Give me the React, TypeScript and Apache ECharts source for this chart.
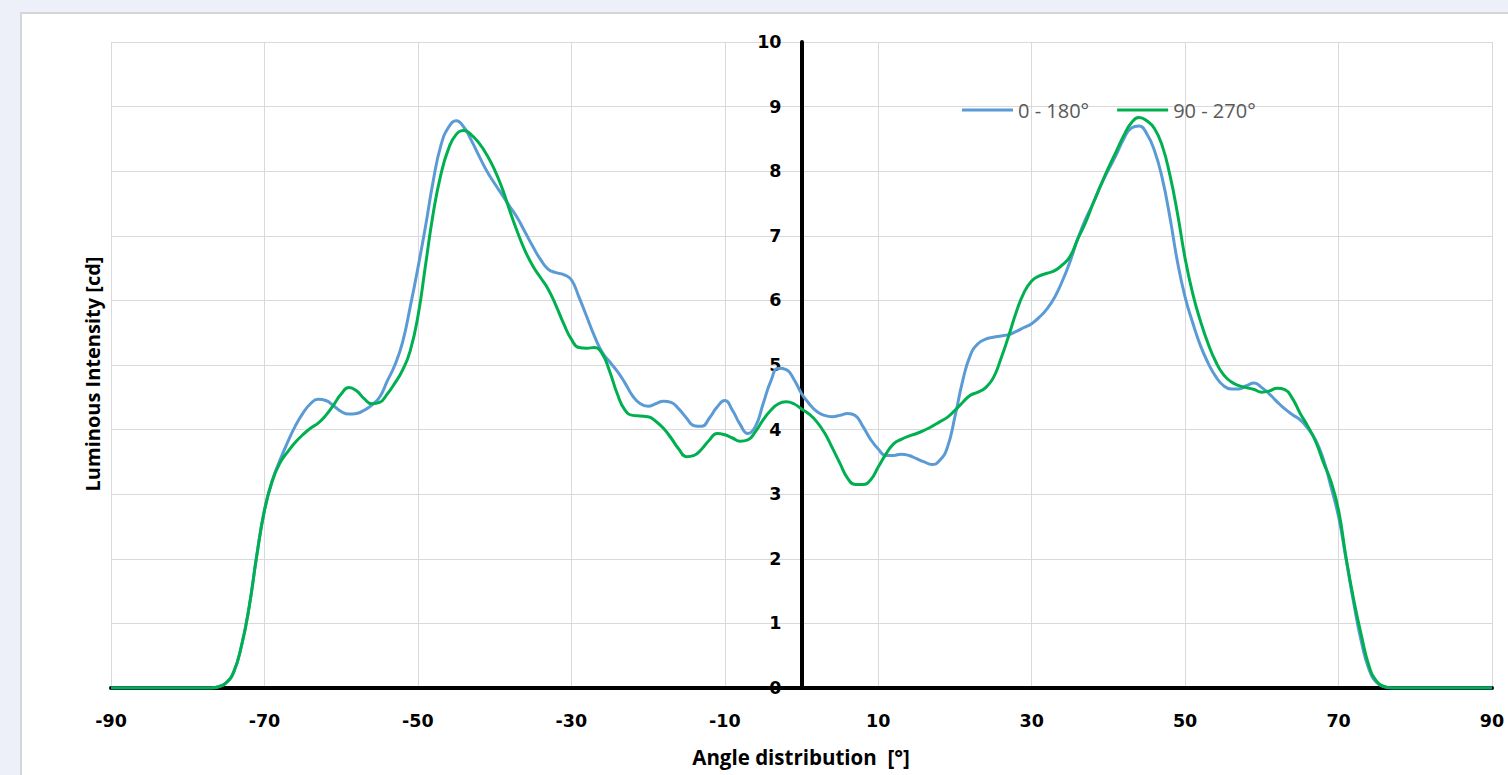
import { useEffect, useRef } from "react";
import * as echarts from "echarts";

const angles = [
  -90, -85, -80,
  -77, -76, -75, -74, -73, -72, -71, -70, -69, -68, -67, -66, -65, -64, -63, -62, -61, -60,
  -59, -58, -57, -56, -55, -54, -53, -52, -51, -50, -49, -48, -47, -46, -45, -44, -43, -42, -41, -40,
  -39, -38, -37, -36, -35, -34, -33, -32, -31, -30, -29, -28, -27, -26, -25, -24, -23, -22, -21, -20,
  -19, -18, -17, -16, -15, -14, -13, -12, -11, -10, -9, -8, -7, -6, -5, -4, -3, -2, -1, 0,
  1, 2, 3, 4, 5, 6, 7, 8, 9, 10, 11, 12, 13, 14, 15, 16, 17, 18, 19, 20,
  21, 22, 23, 24, 25, 26, 27, 28, 29, 30, 31, 32, 33, 34, 35, 36, 37, 38, 39, 40,
  41, 42, 43, 44, 45, 46, 47, 48, 49, 50, 51, 52, 53, 54, 55, 56, 57, 58, 59, 60,
  61, 62, 63, 64, 65, 66, 67, 68, 69, 70, 71, 72, 73, 74, 75, 76, 77,
  80, 85, 90,
];

const blue0to180 = [
  0, 0, 0,
  0, 0.02, 0.08, 0.25, 0.65, 1.25, 2.05, 2.75, 3.2, 3.52, 3.8, 4.05, 4.25, 4.4, 4.47, 4.45, 4.37, 4.28,
  4.24, 4.25, 4.3, 4.38, 4.5, 4.75, 5.0, 5.35, 5.9, 6.5, 7.15, 7.85, 8.4, 8.68, 8.78, 8.68, 8.47, 8.23, 8.0, 7.81,
  7.63, 7.45, 7.27, 7.05, 6.83, 6.63, 6.48, 6.43, 6.4, 6.32, 6.05, 5.75, 5.45, 5.2, 5.05, 4.9, 4.72, 4.52, 4.4, 4.36,
  4.4, 4.44, 4.42, 4.32, 4.18, 4.06, 4.05, 4.18, 4.35, 4.45, 4.3, 4.08, 3.94, 4.05, 4.4, 4.75, 4.95, 4.93, 4.78, 4.56,
  4.4, 4.28, 4.22, 4.2, 4.22, 4.25, 4.22, 4.05, 3.85, 3.7, 3.6, 3.6, 3.62, 3.6, 3.55, 3.5, 3.46, 3.52, 3.72, 4.2,
  4.75, 5.15, 5.33, 5.4, 5.43, 5.45, 5.47, 5.52, 5.58, 5.64, 5.74, 5.87, 6.05, 6.3, 6.6, 6.95, 7.25, 7.5, 7.78, 8.02,
  8.25, 8.5, 8.67, 8.7, 8.58, 8.32, 7.9, 7.3, 6.6, 6.05, 5.65, 5.3, 5.03, 4.82, 4.68, 4.63, 4.63, 4.68, 4.72, 4.65,
  4.55, 4.43, 4.32, 4.23, 4.15, 4.02, 3.84, 3.55, 3.12, 2.65, 1.98, 1.3, 0.7, 0.28, 0.08, 0.02, 0,
  0, 0, 0,
];

const green90to270 = [
  0, 0, 0,
  0, 0.02, 0.08, 0.25, 0.65, 1.25, 2.05, 2.75, 3.2, 3.48, 3.65, 3.8, 3.92, 4.02, 4.1, 4.22, 4.38, 4.55,
  4.65, 4.6, 4.48, 4.4, 4.42, 4.55, 4.72, 4.92, 5.22, 5.75, 6.55, 7.35, 7.95, 8.35, 8.57, 8.63, 8.56, 8.43, 8.25, 8.02,
  7.73, 7.38, 7.05, 6.76, 6.53, 6.35, 6.17, 5.92, 5.64, 5.4, 5.27, 5.26, 5.27, 5.18, 4.9, 4.55, 4.3, 4.22, 4.21, 4.2,
  4.13, 4.02, 3.87, 3.7, 3.58, 3.6, 3.7, 3.84, 3.94, 3.92, 3.87, 3.82, 3.84, 3.97, 4.15, 4.3, 4.4, 4.43, 4.4, 4.32,
  4.24, 4.12, 3.95, 3.72, 3.48, 3.25, 3.15, 3.15, 3.22, 3.42, 3.62, 3.78, 3.85, 3.9, 3.94, 3.99, 4.05, 4.12, 4.19, 4.3,
  4.42, 4.53, 4.58, 4.65, 4.8, 5.1, 5.45, 5.82, 6.12, 6.3, 6.38, 6.42, 6.46, 6.55, 6.68, 6.95, 7.2, 7.5, 7.78, 8.05,
  8.3, 8.55, 8.75, 8.83, 8.78, 8.66, 8.4, 7.95, 7.35, 6.65, 6.1, 5.68, 5.33, 5.05, 4.85, 4.74, 4.68, 4.65, 4.62, 4.58,
  4.6, 4.64, 4.62, 4.48, 4.25, 4.05, 3.82, 3.5, 3.2, 2.75, 2.0, 1.35, 0.8, 0.33, 0.1, 0.02, 0,
  0, 0, 0,
];

const seriesNames = ["0 - 180°", "90 - 270°"];
const xTitle = "Angle distribution  [°]";
const yTitle = "Luminous Intensity [cd]";

export default function App() {
  const ref = useRef<HTMLDivElement>(null);

  useEffect(() => {
    const chart = echarts.init(ref.current!, null, { renderer: "svg" });
    const tickFont = {
      color: "#000",
      fontWeight: "bold" as const,
      fontFamily: "DejaVu Sans",
      fontSize: 17.5,
    };
    chart.setOption({
      animation: false,
      grid: { left: 111, top: 42, width: 1381, height: 646 },
      legend: {
        data: seriesNames,
        left: 962,
        top: 100,
        padding: 0,
        icon: "rect",
        itemWidth: 51,
        itemHeight: 3,
        itemGap: 28,
        textStyle: { color: "#595959", fontSize: 20, fontFamily: "Open Sans" },
      },
      xAxis: {
        type: "value",
        min: -90,
        max: 90,
        interval: 20,
        axisLine: { show: true, onZero: true, lineStyle: { color: "#000", width: 4 } },
        axisTick: { show: false },
        axisLabel: { ...tickFont, margin: 24 },
        splitLine: { show: true, lineStyle: { color: "#D9D9D9", width: 1 } },
      },
      yAxis: {
        type: "value",
        min: 0,
        max: 10,
        interval: 1,
        position: "left",
        offset: -690.5,
        axisLine: { show: true, onZero: false, lineStyle: { color: "#000", width: 4 } },
        axisTick: { show: false },
        axisLabel: { ...tickFont, margin: 20 },
        splitLine: { show: true, lineStyle: { color: "#D9D9D9", width: 1 } },
      },
      graphic: [
        {
          type: "text",
          x: 801,
          y: 757,
          style: {
            text: xTitle,
            fill: "#000",
            font: "bold 20.5px 'Open Sans'",
            textAlign: "center",
            textVerticalAlign: "middle",
          },
        },
        {
          type: "text",
          x: 92,
          y: 374,
          rotation: Math.PI / 2,
          style: {
            text: yTitle,
            fill: "#000",
            font: "bold 20px 'Open Sans'",
            textAlign: "center",
            textVerticalAlign: "middle",
          },
        },
      ],
      series: [
        {
          name: seriesNames[0],
          type: "line",
          smooth: true,
          symbol: "none",
          color: "#5B9BD5",
          lineStyle: { width: 3, color: "#5B9BD5" },
          data: angles.map((a, i) => [a, blue0to180[i]]),
        },
        {
          name: seriesNames[1],
          type: "line",
          smooth: true,
          symbol: "none",
          color: "#00B050",
          lineStyle: { width: 3, color: "#00B050" },
          data: angles.map((a, i) => [a, green90to270[i]]),
        },
      ],
    });
    return () => chart.dispose();
  }, []);

  return (
    <div
      style={{
        position: "fixed",
        left: 0,
        top: 0,
        width: 1508,
        height: 775,
        background: "#EDF0F8",
        overflow: "hidden",
      }}
    >
      <div
        style={{
          position: "absolute",
          left: 20,
          top: 12,
          width: 1600,
          height: 900,
          background: "#FFFFFF",
          border: "2px solid #D6D6D6",
        }}
      />
      <div
        ref={ref}
        style={{ position: "absolute", left: 0, top: 0, width: 1508, height: 775 }}
      />
    </div>
  );
}
